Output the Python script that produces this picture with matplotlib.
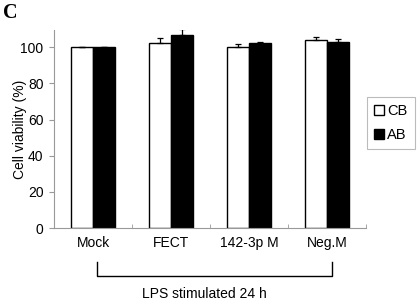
import matplotlib
matplotlib.use("Agg")
import matplotlib.pyplot as plt
import numpy as np
from matplotlib.lines import Line2D

plt.rcParams['font.family'] = ['Liberation Sans', 'DejaVu Sans']

categories = ["Mock", "FECT", "142-3p M", "Neg.M"]
cb_values = [100, 102.4, 100, 103.7]
ab_values = [100, 106.6, 102.2, 102.6]
cb_err = [0, 2.4, 2.0, 2.2]
ab_err = [0, 3.3, 0.8, 1.8]
yticks = [0, 20, 40, 60, 80, 100]

fig = plt.figure(figsize=(4.17, 3.04), dpi=100)
ax = fig.add_axes([54/417, 1-228/304, (366-54)/417, (228-30)/304])

x = np.arange(len(categories))
w = 0.28
ax.bar(x - w/2, cb_values, w, color='white', edgecolor='black', linewidth=1.0,
       yerr=[np.zeros(4), cb_err], error_kw=dict(ecolor='black', capsize=2.5, elinewidth=0.9, capthick=0.9))
ax.bar(x + w/2, ab_values, w, color='black', edgecolor='black', linewidth=1.0,
       yerr=[np.zeros(4), ab_err], error_kw=dict(ecolor='black', capsize=2.5, elinewidth=0.9, capthick=0.9))

ax.set_xlim(-0.5, 3.5)
ax.set_ylim(0, 109.5)
ax.set_yticks(yticks)
ax.set_yticklabels([str(v) for v in yticks], fontsize=10)
ax.set_xticks(x)
ax.set_xticklabels(categories, fontsize=10)
ax.tick_params(axis='x', length=0, pad=6)
ax.set_xticks(np.arange(0.5, 4, 1), minor=True)
ax.tick_params(axis='x', which='minor', direction='in', length=3, color='#999999')
ax.tick_params(axis='y', length=3.5, color='#999999', pad=4)
for s in ['top', 'right']:
    ax.spines[s].set_visible(False)
for s in ['left', 'bottom']:
    ax.spines[s].set_color('#999999')
    ax.spines[s].set_linewidth(0.8)
ax.set_ylabel("Cell viability (%)", fontsize=10)
ax.yaxis.set_label_coords(27/417, 0.5 * (1 - 228/304 + 1 - 30/304) + 0.0, transform=fig.transFigure)

handles = [plt.Rectangle((0, 0), 1, 1, facecolor='white', edgecolor='black'),
           plt.Rectangle((0, 0), 1, 1, facecolor='black', edgecolor='black')]
leg = fig.legend(handles, ["CB", "AB"], loc='upper left', bbox_to_anchor=(367/417, 1-97/304),
                 fontsize=10.5, frameon=True, fancybox=False, edgecolor='#aaaaaa',
                 handlelength=0.65, handleheight=0.65, handletextpad=0.25, borderpad=0.5,
                 borderaxespad=0, labelspacing=0.65)
leg.get_frame().set_linewidth(0.8)

# bracket
bx0, bx1 = 97/417, 332/417
by0, by1 = 1-262/304, 1-276/304
fig.add_artist(Line2D([bx0, bx0, bx1, bx1], [by0, by1, by1, by0], color='black', linewidth=1.0,
                      transform=fig.transFigure))
fig.text(204/417, 1-294/304, "LPS stimulated 24 h", ha='center', va='center', fontsize=10)

fig.text(3/417, 1-12.5/304, "C", ha='left', va='center', fontsize=14.5, fontweight='bold',
         family=['Liberation Serif', 'DejaVu Serif'])

fig.savefig("out.png", dpi=100)
